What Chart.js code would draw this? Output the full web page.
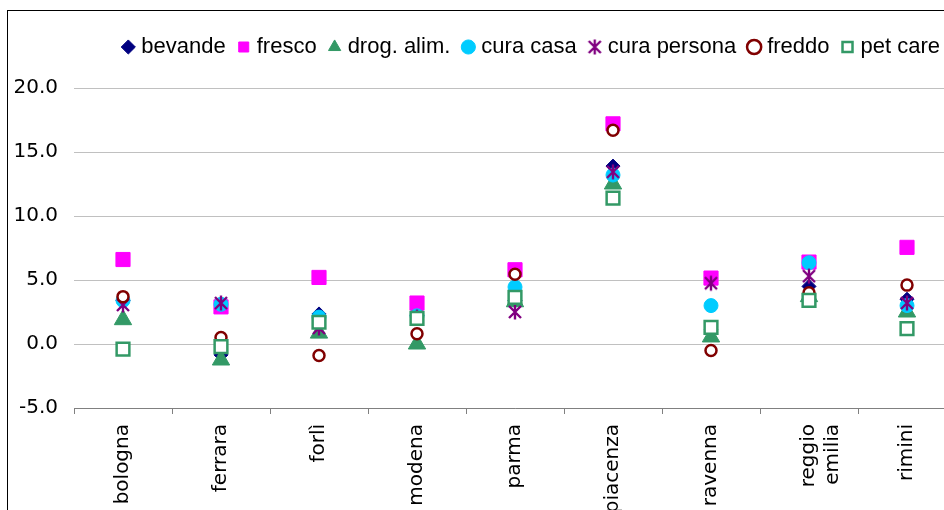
<!DOCTYPE html>
<html>
<head>
<meta charset="utf-8">
<script src="https://cdn.jsdelivr.net/npm/chart.js@4.4.1/dist/chart.umd.min.js"></script>
<style>
  html, body { margin: 0; padding: 0; background: #fff; overflow: hidden; }
  #wrap { position: relative; width: 944px; height: 510px; overflow: hidden; }
  #frame { position: absolute; left: 7px; top: 10px; width: 960px; height: 520px;
           border-left: 1.5px solid #000; border-top: 1.5px solid #000; pointer-events: none; }
  canvas { position: absolute; left: 0; top: 0; }
</style>
</head>
<body>
<div id="wrap">
  <canvas id="chart" width="960" height="510"></canvas>
  <div id="frame"></div>
</div>
<script>
// categories
const cities = ['bologna', 'ferrara', 'forlì', 'modena', 'parma', 'piacenza', 'ravenna', ['reggio', 'emilia'], 'rimini'];

// series values
const bevande     = [3.4, -0.85, 2.35, 2.2, 3.4, 13.9, 1.1, 4.5, 3.5];
const fresco      = [6.6, 2.9, 5.2, 3.2, 5.8, 17.2, 5.15, 6.4, 7.55];
const drogAlim    = [1.9, -1.25, 0.85, 0.0, 3.3, 12.5, 0.55, 3.7, 2.5];
const curaCasa    = [3.4, 3.1, 2.1, 2.2, 4.45, 13.2, 3.0, 6.35, 3.0];
const curaPersona = [3.05, 3.2, 1.25, 2.1, 2.5, 13.45, 4.75, 5.3, 3.2];
const freddo      = [3.7, 0.5, -0.9, 0.8, 5.45, 16.7, -0.5, 4.0, 4.6];
const petCare     = [-0.4, -0.2, 1.7, 2.0, 3.65, 11.4, 1.3, 3.4, 1.2];

// y axis
const yMin = -5, yMax = 20, yStep = 5;

// Excel style star marker (X with a vertical bar)
function asterisk(color, size) {
  const c = document.createElement('canvas');
  c.width = c.height = size;
  const g = c.getContext('2d');
  const m = size / 2, r = size / 2 - 1.5;
  g.strokeStyle = color;
  g.lineWidth = 2.4;
  g.beginPath();
  g.moveTo(m - r * 0.8, m - r * 0.8); g.lineTo(m + r * 0.8, m + r * 0.8);
  g.moveTo(m + r * 0.8, m - r * 0.8); g.lineTo(m - r * 0.8, m + r * 0.8);
  g.moveTo(m, m - r); g.lineTo(m, m + r);
  g.stroke();
  return c;
}

function series(label, data, color, style, radius, hollow, idx) {
  return {
    label: label,
    data: data,
    showLine: false,
    order: 10 - idx,
    pointStyle: style,
    pointRadius: radius,
    pointHoverRadius: radius,
    backgroundColor: hollow ? '#ffffff' : color,
    borderColor: color,
    borderWidth: hollow ? 2.5 : 1,
    pointBackgroundColor: hollow ? '#ffffff' : color,
    pointBorderColor: color,
    pointBorderWidth: hollow ? 2.5 : 1
  };
}

// push the plot area below the legend
const legendSpace = {
  id: 'legendSpace',
  beforeInit(chart) {
    const fit = chart.legend.fit;
    chart.legend.fit = function () {
      fit.call(this);
      this.height += 20;
    };
  }
};

Chart.defaults.font.family = 'DejaVu Sans';
Chart.defaults.color = '#000';

const ctx = document.getElementById('chart').getContext('2d');

new Chart(ctx, {
  type: 'line',
  data: {
    labels: cities,
    datasets: [
      series('bevande', bevande, '#000080', 'rectRot', 7, false, 0),
      series('fresco', fresco, '#ff00ff', 'rect', 10, false, 1),
      series('drog. alim.', drogAlim, '#339966', 'triangle', 10, false, 2),
      series('cura casa', curaCasa, '#00ccff', 'circle', 7, false, 3),
      series('cura persona', curaPersona, '#800080', asterisk('#800080', 18), 8, false, 4),
      series('freddo', freddo, '#800000', 'circle', 5.5, true, 5),
      series('pet care', petCare, '#339966', 'rect', 9, true, 6)
    ]
  },
  options: {
    responsive: false,
    animation: false,
    events: [],
    layout: { autoPadding: false, padding: { left: 8, right: 4, top: 20, bottom: 0 } },
    scales: {
      x: {
        offset: true,
        grid: { offset: true, drawOnChartArea: false, color: '#808080', tickLength: 6 },
        border: { color: '#808080', width: 1 },
        ticks: { minRotation: 90, maxRotation: 90, padding: 10, font: { size: 20 } },
        afterFit(scale) {
          scale.height = 102;
          scale.paddingLeft = 0;
          scale.paddingRight = 0;
        }
      },
      y: {
        min: yMin,
        max: yMax,
        grid: { color: '#c0c0c0', drawTicks: false },
        border: { display: false },
        ticks: {
          stepSize: yStep,
          padding: 16,
          font: { size: 20 },
          callback: v => v.toFixed(1)
        },
        afterFit(scale) {
          scale.width = 66;
          scale.paddingTop = 0;
          scale.paddingBottom = 0;
        }
      }
    },
    plugins: {
      tooltip: { enabled: false },
      legend: {
        align: 'end',
        labels: {
          usePointStyle: true,
          boxWidth: 4,
          boxHeight: 10,
          padding: 16,
          font: { family: 'Liberation Sans', size: 22 },
          sort: (a, b) => a.datasetIndex - b.datasetIndex
        }
      }
    }
  },
  plugins: [legendSpace]
});
</script>
</body>
</html>
